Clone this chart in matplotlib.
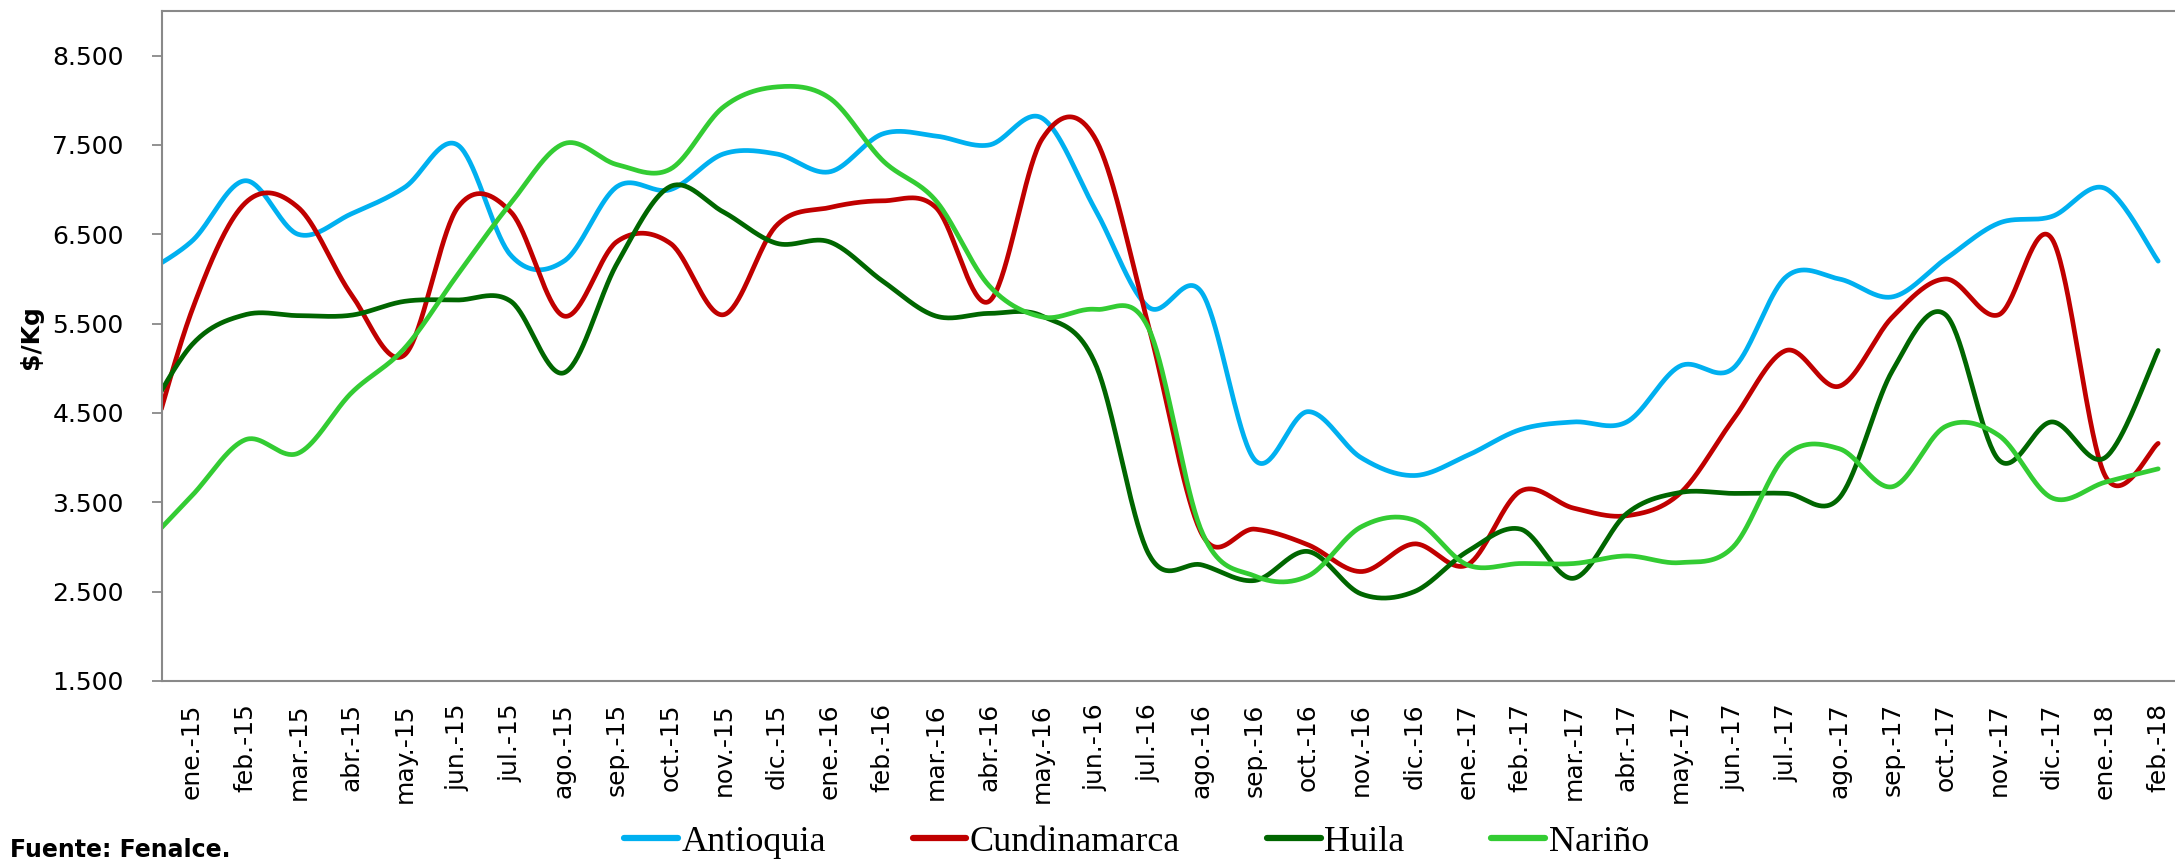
import numpy as np
import matplotlib
matplotlib.use("Agg")
import matplotlib.pyplot as plt

# ---------------- data ----------------
# first category (dic.-14) lies left of the visible axis: the series are clipped there
months = ["dic.-14",
          "ene.-15", "feb.-15", "mar.-15", "abr.-15", "may.-15", "jun.-15",
          "jul.-15", "ago.-15", "sep.-15", "oct.-15", "nov.-15", "dic.-15",
          "ene.-16", "feb.-16", "mar.-16", "abr.-16", "may.-16", "jun.-16",
          "jul.-16", "ago.-16", "sep.-16", "oct.-16", "nov.-16", "dic.-16",
          "ene.-17", "feb.-17", "mar.-17", "abr.-17", "may.-17", "jun.-17",
          "jul.-17", "ago.-17", "sep.-17", "oct.-17", "nov.-17", "dic.-17",
          "ene.-18", "feb.-18"]

antioquia = [6030,
             6425, 7100, 6500, 6730, 7025, 7500, 6265, 6200, 7035, 7000, 7400, 7400,
             7200, 7625, 7600, 7500, 7800, 6775, 5685, 5850, 3975, 4515, 4000, 3800,
             4025, 4315, 4400, 4400, 5025, 5000, 6025, 6000, 5800, 6225, 6625, 6700,
             7015, 6200]

cundinamarca = [3650,
                5650, 6850, 6800, 5825, 5150, 6800, 6750, 5585, 6420, 6400, 5600, 6600,
                6800, 6875, 6800, 5750, 7570, 7570, 5475, 3150, 3200, 3025, 2725, 3035,
                2800, 3625, 3435, 3350, 3600, 4425, 5200, 4800, 5575, 6000, 5600, 6450,
                3800, 4160]

huila = [4300,
         5265, 5600, 5590, 5595, 5750, 5765, 5750, 4950, 6175, 7035, 6750, 6400,
         6415, 5975, 5585, 5615, 5585, 5050, 2925, 2800, 2625, 2950, 2475, 2500,
         2950, 3200, 2650, 3375, 3610, 3600, 3600, 3550, 4975, 5600, 3975, 4400,
         4000, 5200]

narino = [2950,
          3575, 4200, 4050, 4725, 5225, 6050, 6850, 7515, 7280, 7230, 7925, 8150,
          8025, 7325, 6875, 5925, 5575, 5660, 5450, 3175, 2675, 2675, 3225, 3300,
          2800, 2815, 2815, 2900, 2825, 3000, 4025, 4100, 3675, 4350, 4250, 3550,
          3725, 3875]

series_names = ["Antioquia", "Cundinamarca", "Huila", "Nariño"]
series_values = [antioquia, cundinamarca, huila, narino]
series_colors = ["#00B0F0", "#C00000", "#006600", "#33CC33"]

y_ticks = [1500, 2500, 3500, 4500, 5500, 6500, 7500, 8500]
y_tick_labels = ["1.500", "2.500", "3.500", "4.500", "5.500", "6.500", "7.500", "8.500"]


def smooth(x, y, n=40):
    """Excel-like smoothed line (Catmull-Rom through the points, as cubic Bezier)."""
    pts = np.column_stack([x, y]).astype(float)
    P = np.vstack([pts[0], pts, pts[-1]])
    t = np.linspace(0, 1, n)[:, None]
    segs = []
    for i in range(1, len(P) - 2):
        p0, p1, p2, p3 = P[i - 1], P[i], P[i + 1], P[i + 2]
        c1 = p1 + (p2 - p0) / 6.0
        c2 = p2 - (p3 - p1) / 6.0
        b = ((1 - t) ** 3) * p1 + 3 * ((1 - t) ** 2) * t * c1 + 3 * (1 - t) * t ** 2 * c2 + t ** 3 * p2
        segs.append(b if i == len(P) - 3 else b[:-1])
    out = np.vstack(segs)
    return out[:, 0], out[:, 1]


W, H = 2175, 860
fig = plt.figure(figsize=(W / 100, H / 100), dpi=100)
ax = fig.add_axes([162 / W, 1 - 681 / H, (W - 162) / W, (681 - 11) / H])

x = np.arange(len(months)) - 1  # ene.-15 -> 0
for name, vals, col in zip(series_names, series_values, series_colors):
    xs, ys = smooth(x, vals)
    ax.plot(xs, ys, color=col, lw=3.4, label=name, solid_capstyle="round")

ax.set_xlim((162 - 192) / 53.14, (2175 - 192) / 53.14)
ax.set_ylim(1500, 9000)

ax.set_xticks(x[1:])
ax.set_xticklabels(months[1:], rotation=90, fontsize=18, family="DejaVu Sans")
ax.set_yticks(y_ticks)
ax.set_yticklabels(y_tick_labels, fontsize=18, family="DejaVu Sans")

grey = "#898989"
for s in ["left", "bottom", "top"]:
    ax.spines[s].set_color(grey)
    ax.spines[s].set_linewidth(1.5)
ax.spines["right"].set_visible(False)
ax.tick_params(axis="y", length=7.5, width=1.3, color=grey, pad=20, labelcolor="black")
ax.tick_params(axis="x", length=0, pad=16, labelcolor="black")

fig.text(31 / W, 1 - 337 / H, "$/Kg", rotation=90, ha="center", va="center",
         fontsize=18, fontweight="bold", family="DejaVu Sans")
fig.text(10 / W, 1 - 857 / H, "Fuente: Fenalce.", ha="left", va="baseline",
         fontsize=17, fontweight="bold", family="DejaVu Sans")

leg = fig.legend(loc="center left", bbox_to_anchor=(624 / W, 1 - 842 / H), ncol=4,
                 frameon=False, prop={"family": "Liberation Serif", "size": 26},
                 handlelength=1.49, handletextpad=0.1, columnspacing=2.4,
                 borderpad=0, borderaxespad=0)
for h in leg.get_lines():
    h.set_linewidth(4.5)

fig.savefig("out.png", dpi=100)
